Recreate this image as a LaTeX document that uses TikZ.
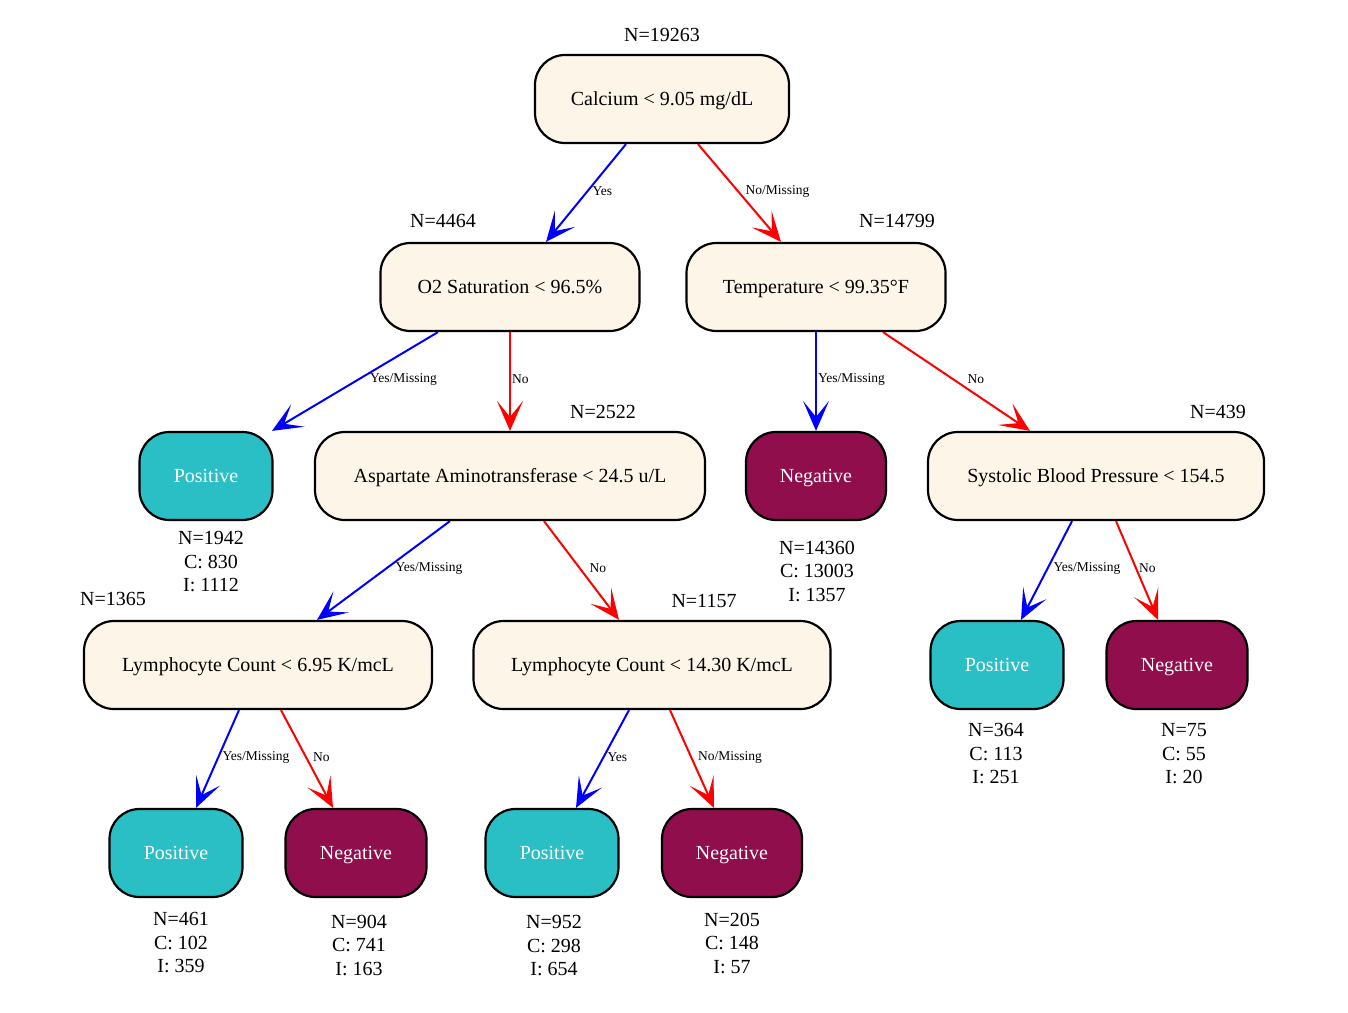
\documentclass[tikz,border=0pt]{standalone}
\usepackage{fontspec}
\setmainfont{Liberation Serif}
\usetikzlibrary{arrows.meta}
\definecolor{cream}{HTML}{FDF5E8}
\definecolor{leafteal}{HTML}{2ABFC5}
\definecolor{leafmaroon}{HTML}{8F0E4B}
\begin{document}
\begin{tikzpicture}[x=1pt,y=-1pt,
  box/.style={draw=black, line width=2.2pt, rounded corners=30pt, minimum height=88pt,
    font=\fontsize{20}{24}\selectfont, inner sep=0pt, text height=16pt, text depth=4pt},
  splitbox/.style={box, fill=cream},
  posleaf/.style={box, fill=leafteal, text=white, minimum width=133pt},
  negleaf/.style={box, fill=leafmaroon, text=white, minimum width=140pt},
  ncount/.style={font=\fontsize{20}{24}\selectfont, inner sep=0pt},
  stats/.style={font=\fontsize{20}{23.5}\selectfont, align=center, inner sep=0pt},
  link/.style={line width=2pt, -{Stealth[length=30pt, width=26pt, inset=16pt]}},
  yesarrow/.style={link, blue},
  noarrow/.style={link, red},
  elabel/.style={font=\fontsize{13.5}{16}\selectfont, anchor=west, inner sep=1pt, text=black, midway, yshift=2pt}
]
\useasboundingbox (0,0) rectangle (1348,1012);

% split nodes
\node[splitbox, minimum width=254pt] (calc) at (662,99) {Calcium < 9.05 mg/dL};
\node[splitbox, minimum width=259pt] (o2) at (510,287) {O2 Saturation < 96.5\%};
\node[splitbox, minimum width=259pt] (temp) at (816,287) {Temperature < 99.35°F};
\node[splitbox, minimum width=390pt] (asp) at (510,476) {Aspartate Aminotransferase < 24.5 u/L};
\node[splitbox, minimum width=336pt] (sys) at (1096,476) {Systolic Blood Pressure < 154.5};
\node[splitbox, minimum width=348pt] (lymA) at (258,665) {Lymphocyte Count < 6.95 K/mcL};
\node[splitbox, minimum width=357pt] (lymB) at (652,665) {Lymphocyte Count < 14.30 K/mcL};

% leaves
\node[posleaf] (posA) at (206,476) {Positive};
\node[negleaf] (negA) at (816,476) {Negative};
\node[posleaf] (posS) at (997,665) {Positive};
\node[negleaf, minimum width=141pt] (negS) at (1177,665) {Negative};
\node[posleaf] (posB) at (176,853) {Positive};
\node[negleaf, minimum width=141pt] (negB) at (356,853) {Negative};
\node[posleaf] (posC) at (552,853) {Positive};
\node[negleaf] (negC) at (732,853) {Negative};

% sample counts above split nodes
\node[ncount] (ncalc) at (662,35) {N=19263};
\node[ncount] (no2) at (443,221) {N=4464};
\node[ncount] (ntemp) at (897,221) {N=14799};
\node[ncount] (nasp) at (603,412) {N=2522};
\node[ncount] (nsys) at (1218,412) {N=439};
\node[ncount] (nlymA) at (113,599) {N=1365};
\node[ncount] (nlymB) at (704,601) {N=1157};

% leaf statistics
\node[stats] (sposA) at (211,562) {N=1942\\C: 830\\I: 1112};
\node[stats] (snegA) at (817,571) {N=14360\\C: 13003\\I: 1357};
\node[stats] (sposS) at (996,754) {N=364\\C: 113\\I: 251};
\node[stats] (snegS) at (1184,754) {N=75\\C: 55\\I: 20};
\node[stats] (sposB) at (181,943) {N=461\\C: 102\\I: 359};
\node[stats] (snegB) at (359,945) {N=904\\C: 741\\I: 163};
\node[stats] (sposC) at (554,946) {N=952\\C: 298\\I: 654};
\node[stats] (snegC) at (732,943) {N=205\\C: 148\\I: 57};

% branches
\draw[yesarrow] ([xshift=-36pt]calc.south) -- ([xshift=36pt]o2.north)
  node[elabel, xshift=4.5pt] {Yes};
\draw[noarrow] ([xshift=36pt]calc.south) -- ([xshift=-35pt]temp.north)
  node[elabel, xshift=4pt] {No/Missing};
\draw[yesarrow] ([xshift=-72pt]o2.south) -- ([xshift=66pt]posA.north)
  node[elabel, xshift=13pt] {Yes/Missing};
\draw[noarrow] (o2.south) -- (asp.north)
  node[elabel] {No};
\draw[yesarrow] (temp.south) -- (negA.north)
  node[elabel] {Yes/Missing};
\draw[noarrow] ([xshift=67pt]temp.south) -- ([xshift=-66pt]sys.north)
  node[elabel, xshift=9pt] {No};
\draw[yesarrow] ([xshift=-60pt]asp.south) -- ([xshift=59pt]lymA.north)
  node[elabel, xshift=10pt] {Yes/Missing};
\draw[noarrow] ([xshift=34pt]asp.south) -- ([xshift=-33pt]lymB.north)
  node[elabel, xshift=6pt] {No};
\draw[yesarrow] ([xshift=-24pt]sys.south) -- ([xshift=24pt]posS.north)
  node[elabel, xshift=5pt] {Yes/Missing};
\draw[noarrow] ([xshift=20pt]sys.south) -- ([xshift=-19pt]negS.north)
  node[elabel] {No};
\draw[yesarrow] ([xshift=-19pt]lymA.south) -- ([xshift=20pt]posB.north)
  node[elabel, xshift=3pt] {Yes/Missing};
\draw[noarrow] ([xshift=23pt]lymA.south) -- ([xshift=-23pt]negB.north)
  node[elabel, xshift=4pt] {No};
\draw[yesarrow] ([xshift=-23pt]lymB.south) -- ([xshift=24pt]posC.north)
  node[elabel, xshift=3pt] {Yes};
\draw[noarrow] ([xshift=18pt]lymB.south) -- ([xshift=-18pt]negC.north)
  node[elabel, xshift=4pt] {No/Missing};
\end{tikzpicture}
\end{document}
